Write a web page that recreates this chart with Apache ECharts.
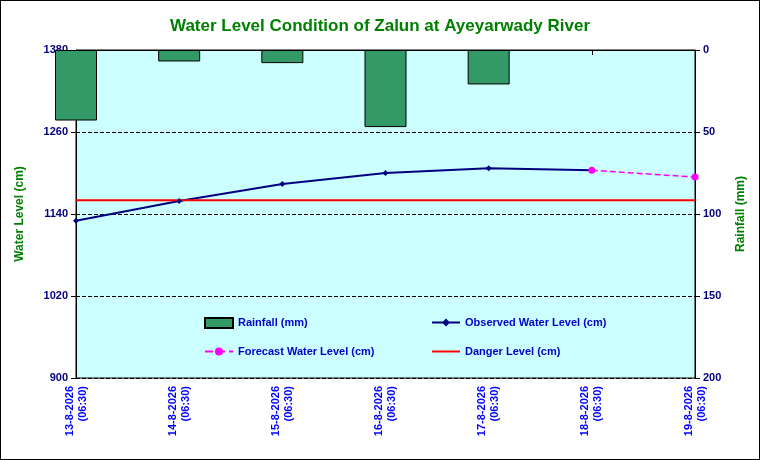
<!DOCTYPE html>
<html><head><meta charset="utf-8">
<script src="https://cdn.jsdelivr.net/npm/echarts@6/dist/echarts.min.js"></script>
<style>body{margin:0}#c{width:758px;height:458px;border:1px solid #000}</style>
</head><body><div id="c"></div>
<script>
var dates = ['13-8-2026\n(06:30)','14-8-2026\n(06:30)','15-8-2026\n(06:30)','16-8-2026\n(06:30)','17-8-2026\n(06:30)','18-8-2026\n(06:30)','19-8-2026\n(06:30)'];
var rainfall = [43, 7, 8, 47, 21, 0, 0];
var observed = [1130, 1159, 1184, 1200, 1207, 1204, null];
var forecast = [null, null, null, null, null, 1204, 1194];
var danger = [1160, 1160, 1160, 1160, 1160, 1160, 1160];

var chart = echarts.init(document.getElementById('c'));
function lg(name, left, top, extra){
	var d = {name:name};
	for (var k in extra) d[k] = extra[k];
	return {data:[d], left:left, top:top, itemWidth:28, itemHeight:10,
		textStyle:{color:'#0000cc', fontWeight:'bold', fontSize:11, fontFamily:'Arial'}};
}
chart.setOption({
	backgroundColor:'#fff',
	title:{text:'Water Level Condition of Zalun at Ayeyarwady River', left:'center', top:12,
		textStyle:{color:'#008000', fontSize:17, fontWeight:'bold', fontFamily:'Arial'}},
	grid:{left:75, right:64, top:49, bottom:81, show:true, backgroundColor:'#ccffff', borderColor:'#000', borderWidth:1},
	legend:[lg('Rainfall (mm)',198,311,{icon:'rect'}), lg('Observed Water Level (cm)',425,311,{}),
		lg('Forecast Water Level (cm)',198,340,{}), lg('Danger Level (cm)',425,340,{itemStyle:{opacity:0}})],
	xAxis:{type:'category', data:dates, boundaryGap:false,
		axisLine:{lineStyle:{color:'#000'}}, axisTick:{show:true, lineStyle:{color:'#000'}},
		axisLabel:{rotate:90, color:'#0000ff', fontWeight:'bold', fontSize:11, fontFamily:'Arial', lineHeight:13}},
	yAxis:[
		{type:'value', min:900, max:1380, interval:120, name:'Water Level (cm)', nameLocation:'middle', nameGap:50,
			nameTextStyle:{color:'#008000', fontWeight:'bold', fontSize:12, fontFamily:'Arial'},
			axisLine:{show:true, lineStyle:{color:'#000'}}, axisTick:{show:true},
			axisLabel:{color:'#000080', fontWeight:'bold', fontSize:11, fontFamily:'Arial', formatter:function(v){return String(v);}},
			splitLine:{lineStyle:{color:'#000', type:'dashed'}}},
		{type:'value', min:0, max:200, interval:50, inverse:true, name:'Rainfall (mm)', nameLocation:'middle', nameGap:40,
			nameTextStyle:{color:'#008000', fontWeight:'bold', fontSize:12, fontFamily:'Arial'},
			axisLine:{show:true, lineStyle:{color:'#000'}}, axisTick:{show:true},
			axisLabel:{color:'#000080', fontWeight:'bold', fontSize:11, fontFamily:'Arial'},
			splitLine:{show:false}}
	],
	series:[
		{name:'Rainfall (mm)', type:'bar', yAxisIndex:1, clip:true, barWidth:42,
			data:rainfall.map(function(v){ return v > 0 ? v : null; }),
			itemStyle:{color:'#339966', borderColor:'#000', borderWidth:1}},
		{name:'Observed Water Level (cm)', type:'line', data:observed, symbol:'diamond', symbolSize:6,
			lineStyle:{color:'#000080', width:2}, itemStyle:{color:'#000080'}},
		{name:'Forecast Water Level (cm)', type:'line', data:forecast, symbol:'circle', symbolSize:7,
			lineStyle:{color:'#ff00ff', width:1.5, type:'dashed'}, itemStyle:{color:'#ff00ff'}},
		{name:'Danger Level (cm)', type:'line', data:danger, symbol:'none',
			lineStyle:{color:'#ff0000', width:2}, itemStyle:{color:'#ff0000'}}
	]
});
</script></body></html>
